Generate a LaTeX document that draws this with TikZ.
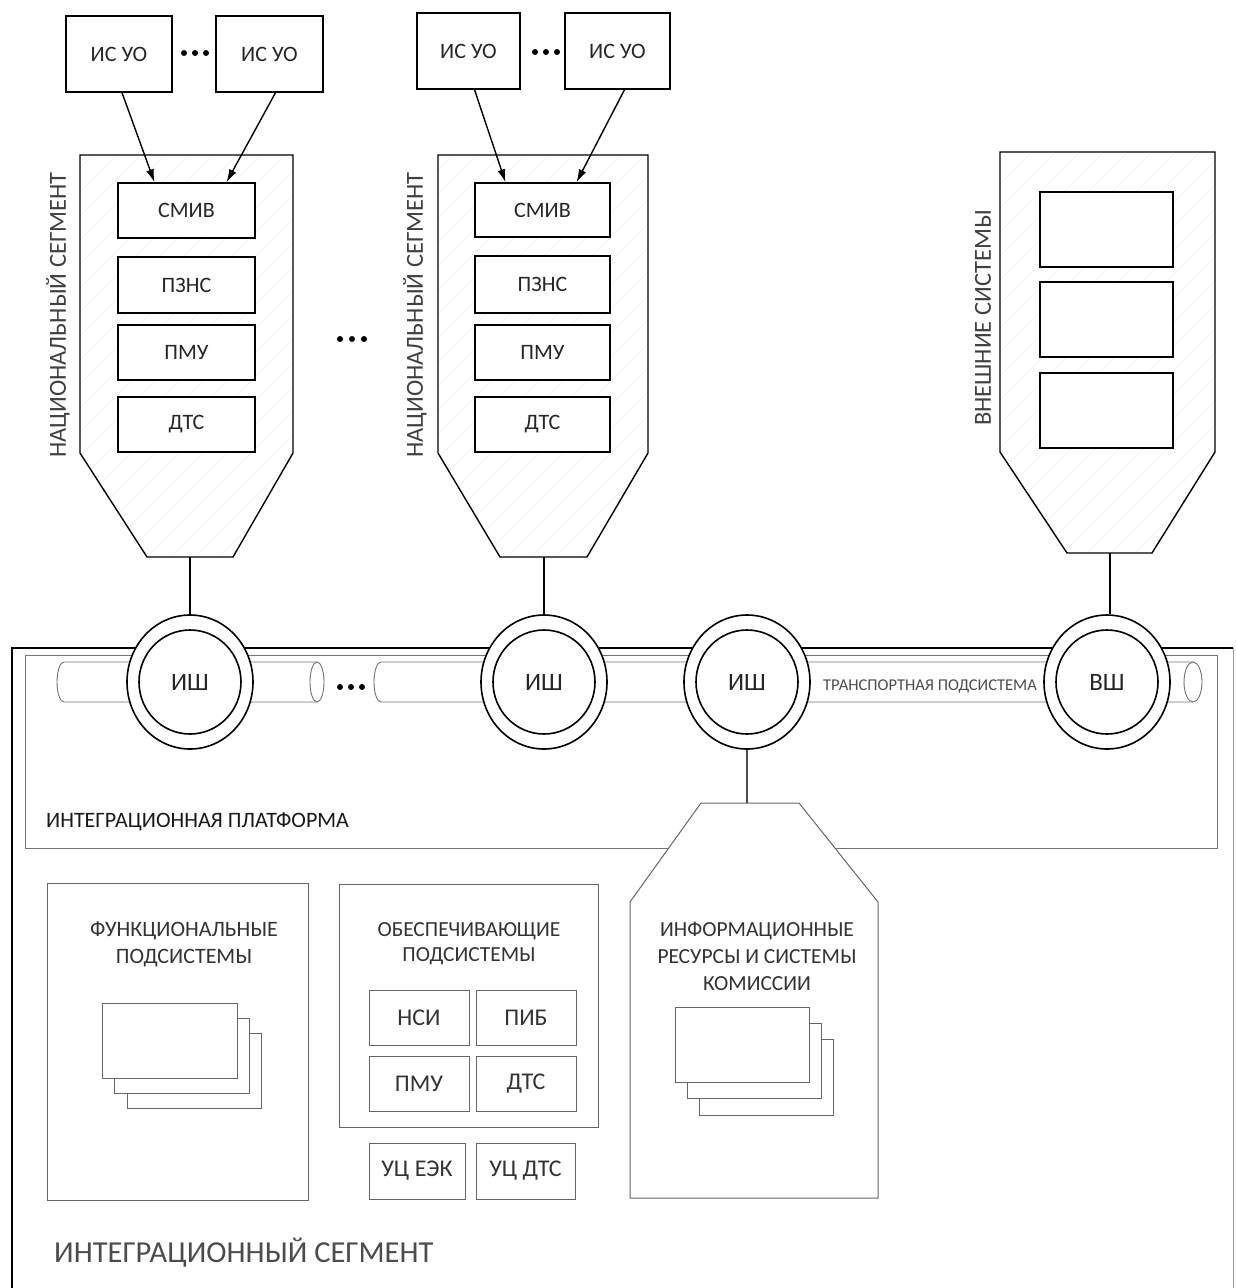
\documentclass[tikz,border=0pt]{standalone}
\usepackage{fontspec}
\setmainfont{Carlito}
\usetikzlibrary{shapes.geometric,arrows.meta,calc}
\newcommand{\mybox}[7]{\node[#6, minimum width={(#4-#2)*1pt}, minimum height={(#5-#3)*1pt}] (#1) at ({(#2+#4)/2},{(#3+#5)/2}) {#7};}
\begin{document}
\begin{tikzpicture}[x=1pt,y=-1pt,
  topbox/.style={draw=black, line width=1.4pt, fill=white, inner sep=0pt, font=\fontsize{22}{26}\selectfont, text=black!85},
  lowbox/.style={draw=black!60, line width=1pt, fill=white, inner sep=0pt, font=\fontsize{24}{28}\selectfont, text=black!80},
  lowline/.style={draw=black!60, line width=1pt, fill=white},
  segline/.style={draw=black, line width=1.4pt},
  hatch/.style={draw=black!7, line width=0.5pt},
  arr/.style={draw=black, line width=1.4pt, -{Latex[length=13pt,width=8pt]}},
  ring/.style={ellipse, draw=black, line width=1.6pt, fill=white, minimum width=126pt, minimum height=134pt, inner sep=0pt, font=\fontsize{25}{28}\selectfont, text=black!85},
  inring/.style={draw=black, line width=1.6pt},
  tube/.style={draw=black!55, line width=0.9pt, fill=white},
  lbl/.style={text=black!80, inner sep=0pt},
  vlbl/.style={text=black!75, inner sep=0pt, rotate=90, font=\fontsize{24.5}{28}\selectfont},
  dot/.style={circle, fill=black, inner sep=0pt, minimum size=6pt},
  conn/.style={draw=black, line width=1.4pt},
]
\useasboundingbox (0,0) rectangle (1236,1288);
\fill[white] (0,0) rectangle (1236,1288);

% ---------- National segment 1 ----------
\begin{scope}
\clip (80,155) -- (293,155) -- (293,453) -- (233,557) -- (147,557) -- (80,453) -- cycle;
\foreach \i in {-400,-376,...,1200} \draw[hatch] (\i,600) -- (\i+600,0);
\end{scope}
\draw[segline] (80,155) -- (293,155) -- (293,453) -- (233,557) -- (147,557) -- (80,453) -- cycle;
\coordinate (seg1b) at (190,557);
\node[vlbl] (lab1) at (58,315) {НАЦИОНАЛЬНЫЙ СЕГМЕНТ};
\mybox{isuo1a}{66}{16}{172}{92}{topbox}{ИС УО}
\mybox{isuo1b}{216}{16}{323}{92}{topbox}{ИС УО}
\node[dot] (d1a) at (184,53) {}; \node[dot] (d1b) at (195,53) {}; \node[dot] (d1c) at (206,53) {};
\mybox{smiv1}{118}{183}{255}{238}{topbox}{СМИВ}
\mybox{pzns1}{118}{257}{255}{313}{topbox}{ПЗНС}
\mybox{pmu1}{118}{325}{255}{380}{topbox}{ПМУ}
\mybox{dts1}{118}{397}{255}{452}{topbox}{ДТС}
\draw[arr] ([xshift=3pt]isuo1a.south) -- ([xshift=-32pt]smiv1.north);
\draw[arr] ([xshift=6pt]isuo1b.south) -- ([xshift=40pt]smiv1.north);

% ---------- National segment 2 ----------
\begin{scope}
\clip (438,155) -- (648,155) -- (648,453) -- (587,557) -- (500,557) -- (438,453) -- cycle;
\foreach \i in {-400,-376,...,1200} \draw[hatch] (\i,600) -- (\i+600,0);
\end{scope}
\draw[segline] (438,155) -- (648,155) -- (648,453) -- (587,557) -- (500,557) -- (438,453) -- cycle;
\coordinate (seg2b) at (544,557);
\node[vlbl] (lab2) at (415,315) {НАЦИОНАЛЬНЫЙ СЕГМЕНТ};
\mybox{isuo2a}{417}{13}{520}{89}{topbox}{ИС УО}
\mybox{isuo2b}{565}{13}{670}{89}{topbox}{ИС УО}
\node[dot] (d2a) at (535,52) {}; \node[dot] (d2b) at (546,52) {}; \node[dot] (d2c) at (557,52) {};
\mybox{smiv2}{475}{183}{610}{237}{topbox}{СМИВ}
\mybox{pzns2}{475}{256}{610}{313}{topbox}{ПЗНС}
\mybox{pmu2}{475}{325}{610}{380}{topbox}{ПМУ}
\mybox{dts2}{475}{397}{610}{452}{topbox}{ДТС}
\draw[arr] ([xshift=6pt]isuo2a.south) -- ([xshift=-37pt]smiv2.north);
\draw[arr] ([xshift=7pt]isuo2b.south) -- ([xshift=34pt]smiv2.north);

% dots between segments
\node[dot] (m1) at (340,339) {}; \node[dot] (m2) at (352,339) {}; \node[dot] (m3) at (364,339) {};

% ---------- External systems ----------
\begin{scope}
\clip (1000,152) -- (1215,152) -- (1215,452) -- (1152,553) -- (1067,553) -- (1000,452) -- cycle;
\foreach \i in {-400,-376,...,1600} \draw[hatch] (\i,600) -- (\i+600,0);
\end{scope}
\draw[segline] (1000,152) -- (1215,152) -- (1215,452) -- (1152,553) -- (1067,553) -- (1000,452) -- cycle;
\coordinate (extb) at (1110,553);
\node[vlbl] (lab3) at (983,318) {ВНЕШНИЕ СИСТЕМЫ};
\mybox{ext1}{1040}{192}{1173}{267}{topbox}{}
\mybox{ext2}{1040}{282}{1173}{357}{topbox}{}
\mybox{ext3}{1040}{373}{1173}{448}{topbox}{}

% ---------- Integration segment ----------
\draw[draw=black!40, line width=1pt] (1233,648) -- (1233,1288);
\draw[draw=black, line width=1.6pt] (12,1288) -- (12,648) -- (1233,648);
\draw[draw=black!55, line width=1pt] (25,655) rectangle (1217,848);
\node[lbl, anchor=west, font=\fontsize{22}{26}\selectfont, text=black!90] (platlab) at (46,822) {ИНТЕГРАЦИОННАЯ ПЛАТФОРМА};
\node[lbl, anchor=west, font=\fontsize{30.5}{34}\selectfont, text=black!70] (seglab) at (54,1253) {ИНТЕГРАЦИОННЫЙ СЕГМЕНТ};

% tubes
\draw[tube] (317,662) -- (64,662) arc[start angle=90, end angle=270, x radius=7pt, y radius=20pt] -- (317,702);
\draw[tube] (317,682) ellipse [x radius=7pt, y radius=20pt];
\draw[tube] (1193,662) -- (381,662) arc[start angle=90, end angle=270, x radius=7pt, y radius=20pt] -- (1193,702);
\draw[tube] (1193,682) ellipse [x radius=9pt, y radius=20pt];
\node[dot] (t1) at (340,687) {}; \node[dot] (t2) at (351,687) {}; \node[dot] (t3) at (362,687) {};
\node[lbl, font=\fontsize{16.5}{18}\selectfont, text=black!70] (translab) at (930,686) {ТРАНСПОРТНАЯ ПОДСИСТЕМА};

% rings
\node[ring] (ish1) at (190,682) {ИШ};
\draw[inring] (ish1.center) ellipse [x radius=51pt, y radius=52pt];
\node[ring] (ish2) at (544,682) {ИШ};
\draw[inring] (ish2.center) ellipse [x radius=51pt, y radius=52pt];
\node[ring] (ish3) at (747,682) {ИШ};
\draw[inring] (ish3.center) ellipse [x radius=51pt, y radius=52pt];
\node[ring] (vsh) at (1107,682) {ВШ};
\draw[inring] (vsh.center) ellipse [x radius=51pt, y radius=52pt];

\draw[conn] (seg1b) -- (ish1);
\draw[conn] (seg2b) -- (ish2);
\draw[conn] (extb) -- (vsh.north -| extb);

% ---------- Info resources ----------
\draw[lowline] (701,803) -- (799,803) -- (878,902) -- (878,1198) -- (630,1198) -- (630,902) -- cycle;
\coordinate (infotop) at (747,803);
\draw[conn, draw=black!70] (ish3) -- (infotop);
\node[lbl, align=center, font=\fontsize{21.5}{27}\selectfont] (infolab) at (757,956) {ИНФОРМАЦИОННЫЕ\\РЕСУРСЫ И СИСТЕМЫ\\КОМИССИИ};
\draw[lowline] (699,1039) rectangle (833,1115);
\draw[lowline] (687,1023) rectangle (821,1098);
\draw[lowline] (675,1007) rectangle (809,1082);

% ---------- Functional subsystems ----------
\draw[lowline] (47,883) rectangle (308,1200);
\node[lbl, align=center, font=\fontsize{22}{27}\selectfont] (funclab) at (184,944) {ФУНКЦИОНАЛЬНЫЕ\\ПОДСИСТЕМЫ};
\draw[lowline] (127,1033) rectangle (261,1108);
\draw[lowline] (114,1018) rectangle (249,1093);
\draw[lowline] (102,1003) rectangle (237,1078);

% ---------- Supporting subsystems ----------
\draw[lowline] (339,884) rectangle (598,1127);
\node[lbl, align=center, font=\fontsize{21.5}{25}\selectfont] (suplab) at (469,944) {ОБЕСПЕЧИВАЮЩИЕ\\ПОДСИСТЕМЫ};
\mybox{nsi}{369}{990}{469}{1045}{lowbox}{НСИ}
\mybox{pib}{476}{990}{576}{1045}{lowbox}{ПИБ}
\mybox{pmu3}{369}{1056}{469}{1111}{lowbox}{ПМУ}
\mybox{dts3}{476}{1056}{576}{1111}{lowbox}{ДТС}
\mybox{ucek}{369}{1143}{465}{1199}{lowbox}{УЦ ЕЭК}
\mybox{ucdts}{476}{1143}{575}{1199}{lowbox}{УЦ ДТС}
\end{tikzpicture}
\end{document}
